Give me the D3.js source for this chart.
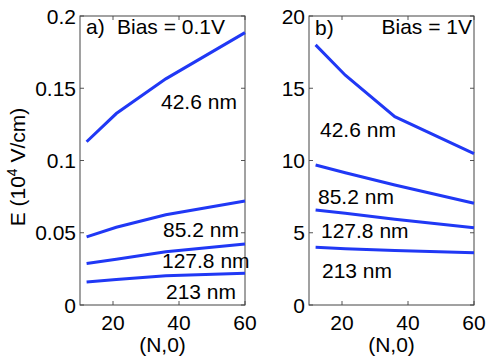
<!DOCTYPE html>
<html><head><meta charset="utf-8">
<script src="https://cdn.jsdelivr.net/npm/d3@7"></script>
<style>body{margin:0;background:#fff}svg{display:block}text{font-family:"Liberation Sans",Arial,Helvetica,sans-serif;fill:#000}</style>
</head><body>
<svg id="c" width="491" height="360"></svg>
<script>
const N = [12, 21, 36, 60];
const widths = ["42.6 nm", "85.2 nm", "127.8 nm", "213 nm"];
const biasA = [
  [0.113, 0.1325, 0.1565, 0.1885],
  [0.0471, 0.0538, 0.0625, 0.072],
  [0.0287, 0.0316, 0.0369, 0.0422],
  [0.0159, 0.0177, 0.0202, 0.0219]
];
const biasB = [
  [18.0, 15.9, 13.03, 10.48],
  [9.69, 9.15, 8.3, 7.04],
  [6.57, 6.35, 5.93, 5.35],
  [3.99, 3.9, 3.78, 3.62]
];
const xTicks = [20, 40, 60];
const yTicksA = [0, 0.05, 0.1, 0.15, 0.2];
const yTicksB = [0, 5, 10, 15, 20];

const svg = d3.select("#c");
const FS = 21;
const plotTop = 16, plotBottom = 305;

function panel(x0, x1, yDomain, yTicks, yFmt, data, title, tag, labelPos, titleAnchor) {
  const x = d3.scaleLinear().domain([10, 60]).range([x0, x1]);
  const y = d3.scaleLinear().domain(yDomain).range([plotBottom, plotTop]);
  const g = svg.append("g");
  const tl = 4;
  xTicks.forEach(t => {
    g.append("line").attr("x1", x(t)).attr("x2", x(t)).attr("y1", plotBottom).attr("y2", plotBottom - tl).attr("stroke", "#555");
    g.append("line").attr("x1", x(t)).attr("x2", x(t)).attr("y1", plotTop).attr("y2", plotTop + tl).attr("stroke", "#555");
    g.append("text").attr("x", x(t)).attr("y", 330).attr("text-anchor", "middle").attr("font-size", FS).text(t);
  });
  yTicks.forEach(t => {
    g.append("line").attr("x1", x0).attr("x2", x0 + tl).attr("y1", y(t)).attr("y2", y(t)).attr("stroke", "#555");
    g.append("line").attr("x1", x1).attr("x2", x1 - tl).attr("y1", y(t)).attr("y2", y(t)).attr("stroke", "#555");
    g.append("text").attr("x", x0 - 4).attr("y", y(t) + 7.5).attr("text-anchor", "end").attr("font-size", FS).text(yFmt(t));
  });
  g.append("rect").attr("x", x0).attr("y", plotTop).attr("width", x1 - x0).attr("height", plotBottom - plotTop)
    .attr("fill", "none").attr("stroke", "#444").attr("stroke-width", 1);
  const line = d3.line().x((d, i) => x(N[i])).y(d => y(d));
  data.forEach(s => {
    g.append("path").attr("d", line(s)).attr("fill", "none").attr("stroke", "#2038f5").attr("stroke-width", 3);
  });
  widths.forEach((w, i) => {
    g.append("text").attr("x", labelPos[i][0]).attr("y", labelPos[i][1]).attr("font-size", FS).text(w);
  });
  g.append("text").attr("x", tag[0]).attr("y", tag[1]).attr("font-size", FS).text(tag[2]);
  g.append("text").attr("x", title[0]).attr("y", title[1]).attr("font-size", FS).attr("text-anchor", titleAnchor).text(title[2]);
  g.append("text").attr("x", (x0 + x1) / 2).attr("y", 352).attr("text-anchor", "middle").attr("font-size", FS).text("(N,0)");
}

panel(80, 245, [0, 0.2], yTicksA, d => d === 0 ? "0" : String(d), biasA,
  [117, 34, "Bias = 0.1V"], [86, 34, "a)"],
  [[161, 109], [163, 237], [162, 268], [166, 299]], "start");
panel(309, 474, [0, 20], yTicksB, d => String(d), biasB,
  [472, 34, "Bias = 1V"], [315, 35, "b)"],
  [[320, 137], [318, 204], [321, 238], [322, 278]], "end");

const yl = svg.append("text").attr("transform", "translate(25,167) rotate(-90)")
  .attr("text-anchor", "middle").attr("font-size", FS);
yl.append("tspan").text("E (10");
yl.append("tspan").attr("font-size", 14).attr("dy", -8).text("4");
yl.append("tspan").attr("dy", 8).text(" V/cm)");
</script>
</body></html>
